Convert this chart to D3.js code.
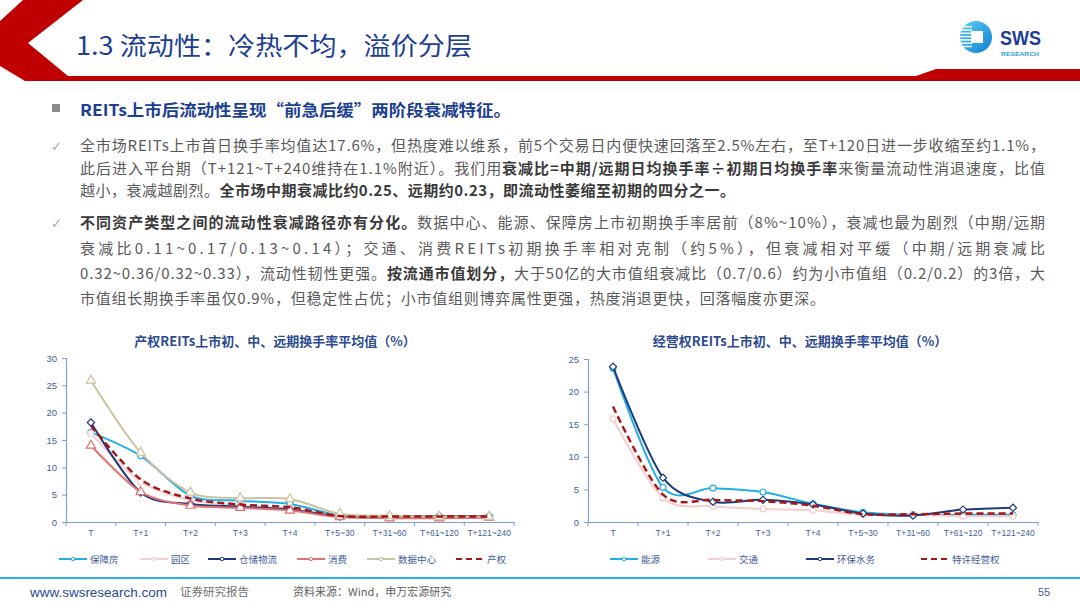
<!DOCTYPE html>
<html><head><meta charset="utf-8">
<script src="https://cdn.jsdelivr.net/npm/d3@7/dist/d3.min.js"></script>
<style>
html,body{margin:0;padding:0;background:#fff;}
svg{display:block;font-family:"Noto Sans CJK SC","Noto Sans",sans-serif;}
</style></head>
<body>
<svg id="c" width="1080" height="608"></svg>
<script>
// ---------- data ----------
const categories = ["T","T+1","T+2","T+3","T+4","T+5~30","T+31~60","T+61~120","T+121~240"];
const leftTicks = [0,5,10,15,20,25,30];
const rightTicks = [0,5,10,15,20,25];

const leftNames = ["保障房","园区","仓储物流","消费","数据中心","产权"];
const baozhangfang = [16.4, 12.1, 4.8, 3.9, 3.3, 1.2, 1.0, 1.0, 1.0];
const yuanqu       = [16.2, 7.4, 4.0, 3.0, 2.5, 1.1, 1.2, 0.8, 0.9];
const cangchu      = [18.2, 5.4, 3.3, 2.8, 2.3, 1.0, 0.9, 1.1, 1.1];
const xiaofei      = [14.0, 5.5, 3.0, 2.6, 2.1, 0.9, 0.7, 0.7, 0.8];
const shujuzhongxin= [25.9, 12.7, 5.4, 4.4, 4.2, 1.5, 1.1, 1.0, 1.0];
const chanquan     = [17.6, 7.8, 4.3, 3.2, 2.7, 1.1, 1.0, 1.0, 1.0];

const rightNames = ["能源","交通","环保水务","特许经营权"];
const nengyuan  = [23.6, 5.3, 5.2, 4.6, 2.8, 1.5, 1.1, 1.1, 1.1];
const jiaotong  = [15.8, 3.7, 2.4, 2.0, 1.8, 1.1, 1.1, 0.9, 0.9];
const huanbao   = [23.8, 6.8, 3.1, 3.4, 2.7, 1.3, 1.0, 1.9, 2.2];
const texu      = [17.7, 4.2, 3.4, 3.2, 2.5, 1.2, 1.2, 1.3, 1.3];

const leftTitle = "产权REITs上市初、中、远期换手率平均值（%）";
const rightTitle = "经营权REITs上市初、中、远期换手率平均值（%）";

// ---------- styles ----------
const C_CYAN="#22b0e0", C_PINK="#f4d0d0", C_NAVY="#1f3a7c", C_SALMON="#e07272", C_KHAKI="#cbc2a2", C_RED="#a51616";
const leftStyle = [
  {c:C_CYAN, m:"circle"},{c:C_PINK,m:"circle"},{c:C_NAVY,m:"diamond"},
  {c:C_SALMON,m:"triangle"},{c:C_KHAKI,m:"triangle"},{c:C_RED,m:null,dash:true}];
const rightStyle = [
  {c:C_CYAN,m:"circle"},{c:"#f6cccc",m:"circle"},{c:C_NAVY,m:"diamond"},{c:C_RED,m:null,dash:true}];

const svg = d3.select("#c");
const BLUE="#1c3f92";

// ---------- header ----------
svg.append("path").attr("fill","#c00000")
  .attr("d","M23,0 L83,0 L28,43 L68,76 L916,76 L936,69 L1080,69 L1080,81 L25,81 L0,66 L0,21 Z");
svg.append("text").attr("x",76).attr("y",55).attr("fill",BLUE)
  .attr("font-size",25).attr("textLength",396).attr("lengthAdjust","spacingAndGlyphs")
  .text("1.3 流动性：冷热不均，溢价分层");

// logo
const lg = svg.append("g");
const grad = svg.append("defs").append("linearGradient").attr("id","lgd").attr("x1",0).attr("y1",0).attr("x2",1).attr("y2",1);
grad.append("stop").attr("offset","0").attr("stop-color","#5fd0f5");
grad.append("stop").attr("offset","1").attr("stop-color","#0f7fd0");
lg.append("circle").attr("cx",976).attr("cy",37).attr("r",16).attr("fill","url(#lgd)");
for(let i=0;i<7;i++){
  lg.append("rect").attr("x",960).attr("y",26+i*3.3).attr("width",12).attr("height",1.4).attr("fill","#fff");
}
lg.append("rect").attr("x",971).attr("y",31).attr("width",12).attr("height",12).attr("fill","#fff");
lg.append("text").attr("x",1000).attr("y",45).attr("fill",BLUE).attr("font-family","Liberation Sans, Arial")
  .attr("font-weight",700).attr("font-size",20).attr("textLength",41).attr("lengthAdjust","spacingAndGlyphs").text("SWS");
lg.append("text").attr("x",1001).attr("y",56).attr("fill","#2a9fd8").attr("font-family","Liberation Sans, Arial")
  .attr("font-weight",700).attr("font-size",6).attr("textLength",38).attr("lengthAdjust","spacingAndGlyphs").text("RESEARCH");

// ---------- text block ----------
svg.append("rect").attr("x",52).attr("y",104).attr("width",8).attr("height",8).attr("fill","#8c8c8c");
svg.append("text").attr("x",80).attr("y",116).attr("fill",BLUE).attr("font-weight",700).attr("font-size",16)
  .attr("textLength",431).attr("lengthAdjust","spacingAndGlyphs")
  .text("REITs上市后流动性呈现“前急后缓”两阶段衰减特征。");

const lines = [
  {y:151, w:965, parts:[["全市场REITs上市首日换手率均值达17.6%，但热度难以维系，前5个交易日内便快速回落至2.5%左右，至T+120日进一步收缩至约1.1%，",0]]},
  {y:174, w:965, parts:[["此后进入平台期（T+121~T+240维持在1.1%附近）。我们用",0],["衰减比=中期/远期日均换手率÷初期日均换手率",1],["来衡量流动性消退速度，比值",0]]},
  {y:196, w:655, parts:[["越小，衰减越剧烈。",0],["全市场中期衰减比约0.25、远期约0.23，即流动性萎缩至初期的四分之一。",1]]},
  {y:228, w:965, parts:[["不同资产类型之间的流动性衰减路径亦有分化。",1],["数据中心、能源、保障房上市初期换手率居前（8%~10%），衰减也最为剧烈（中期/远期",0]]},
  {y:254, w:965, parts:[["衰减比0.11~0.17/0.13~0.14）；交通、消费REITs初期换手率相对克制（约5%），但衰减相对平缓（中期/远期衰减比",0]]},
  {y:279, w:965, parts:[["0.32~0.36/0.32~0.33），流动性韧性更强。",0],["按流通市值划分，",1],["大于50亿的大市值组衰减比（0.7/0.6）约为小市值组（0.2/0.2）的3倍，大",0]]},
  {y:304, w:745, parts:[["市值组长期换手率虽仅0.9%，但稳定性占优；小市值组则博弈属性更强，热度消退更快，回落幅度亦更深。",0]]}
];
lines.forEach(l=>{
  const t = svg.append("text").attr("x",80).attr("y",l.y).attr("font-size",15).attr("fill","#5a5a5a")
    .attr("textLength",l.w).attr("lengthAdjust","spacing");
  l.parts.forEach(p=>{
    t.append("tspan").attr("font-weight",p[1]?700:400).attr("fill",p[1]?"#3a3a3a":"#5a5a5a").text(p[0]);
  });
});
[146,223].forEach(y=>svg.append("text").attr("x",51).attr("y",y+5).attr("font-size",13).attr("fill","#a6a6a6")
  .attr("font-family","DejaVu Sans").text("✓"));

// ---------- charts ----------
function symbolPath(type){
  if(type==="circle") return d3.symbol(d3.symbolCircle, 28)();
  if(type==="diamond") return d3.symbol(d3.symbolSquare, 26)();
  if(type==="triangle") return d3.symbol(d3.symbolTriangle, 36)();
  return null;
}
function drawChart(opt){
  const g = svg.append("g");
  const x = d3.scaleBand().domain(categories).range([opt.x0,opt.x1]);
  const y = d3.scaleLinear().domain([0,opt.ymax]).range([522,opt.ytop]);
  const AX="#7f9fd4", LB="#44619c";
  // title
  g.append("text").attr("x",opt.tx).attr("y",346).attr("text-anchor","middle").attr("font-size",13)
    .attr("font-weight",700).attr("fill","#2d4b8e").text(opt.title);
  // y axis
  const ya = g.append("g").attr("transform",`translate(${opt.x0},0)`)
    .call(d3.axisLeft(y).tickValues(opt.ticks).tickSize(4).tickPadding(5));
  ya.select(".domain").attr("stroke",AX).attr("stroke-width",1.2);
  ya.selectAll(".tick line").attr("stroke",AX);
  ya.selectAll(".tick text").attr("fill",LB).attr("font-size",9.5).attr("font-family","Liberation Sans, Arial");
  // x axis
  const xa = g.append("g").attr("transform","translate(0,522)")
    .call(d3.axisBottom(x).tickSize(0).tickPadding(8));
  xa.select(".domain").attr("stroke",AX).attr("stroke-width",1.2);
  xa.selectAll(".tick text").attr("fill",LB).attr("font-size",8.5).attr("font-family","Liberation Sans, Arial");
  categories.forEach((c,i)=>{
    const bx = x(c)+x.bandwidth();
    g.append("line").attr("x1",bx).attr("x2",bx).attr("y1",522).attr("y2",526).attr("stroke",AX);
  });
  g.append("line").attr("x1",opt.x0).attr("x2",opt.x0).attr("y1",522).attr("y2",526).attr("stroke",AX);
  // series
  const line = d3.line().x((d,i)=>x(categories[i])+x.bandwidth()/2).y(d=>y(d)).curve(d3.curveCardinal.tension(0.1));
  opt.series.forEach((s,k)=>{
    const st = opt.styles[k];
    g.append("path").attr("d",line(s)).attr("fill","none").attr("stroke",st.c)
      .attr("stroke-width",st.dash?2.4:2).attr("stroke-dasharray",st.dash?"7,4":null);
    if(st.m){
      s.forEach((v,i)=>{
        g.append("path").attr("d",symbolPath(st.m))
          .attr("transform",`translate(${x(categories[i])+x.bandwidth()/2},${y(v)})${st.m==="diamond"?" rotate(45)":""}`)
          .attr("fill","#fff").attr("stroke",st.c).attr("stroke-width",1.2);
      });
    }
  });
  // legend
  opt.names.forEach((n,k)=>{
    const st = opt.styles[k], lx = opt.legendX[k];
    g.append("line").attr("x1",lx).attr("x2",lx+28).attr("y1",559).attr("y2",559).attr("stroke",st.c)
      .attr("stroke-width",2).attr("stroke-dasharray",st.dash?"6,4":null);
    if(st.m){
      g.append("circle").attr("cx",lx+14).attr("cy",559).attr("r",1.8).attr("fill","#fff").attr("stroke",st.c).attr("stroke-width",1);
    }
    g.append("text").attr("x",lx+31).attr("y",562.5).attr("font-size",9.5).attr("fill","#3f5c9c").text(n);
  });
}
drawChart({x0:66,x1:514,ytop:358,ymax:30,ticks:leftTicks,tx:275,title:leftTitle,
  series:[baozhangfang,yuanqu,cangchu,xiaofei,shujuzhongxin,chanquan],styles:leftStyle,names:leftNames,
  legendX:[59,140,208,297,367,456]});
drawChart({x0:588,x1:1038,ytop:359,ymax:25,ticks:rightTicks,tx:800,title:rightTitle,
  series:[nengyuan,jiaotong,huanbao,texu],styles:rightStyle,names:rightNames,
  legendX:[610,708,806,921]});

// ---------- footer ----------
svg.append("line").attr("x1",0).attr("x2",1080).attr("y1",578).attr("y2",578).attr("stroke","#2db3e8").attr("stroke-width",2);
svg.append("text").attr("x",30).attr("y",597).attr("font-size",13).attr("fill","#2b4a8c")
  .attr("font-family","Liberation Sans, Arial").attr("textLength",137).attr("lengthAdjust","spacingAndGlyphs").text("www.swsresearch.com");
svg.append("text").attr("x",180).attr("y",596).attr("font-size",11.5).attr("fill","#707070").text("证券研究报告");
svg.append("text").attr("x",293).attr("y",596).attr("font-size",11).attr("fill","#606060").text("资料来源：Wind，申万宏源研究");
svg.append("text").attr("x",1038).attr("y",596).attr("font-size",11).attr("fill","#44619c").attr("font-family","Liberation Sans, Arial").text("55");
</script>
</body></html>
